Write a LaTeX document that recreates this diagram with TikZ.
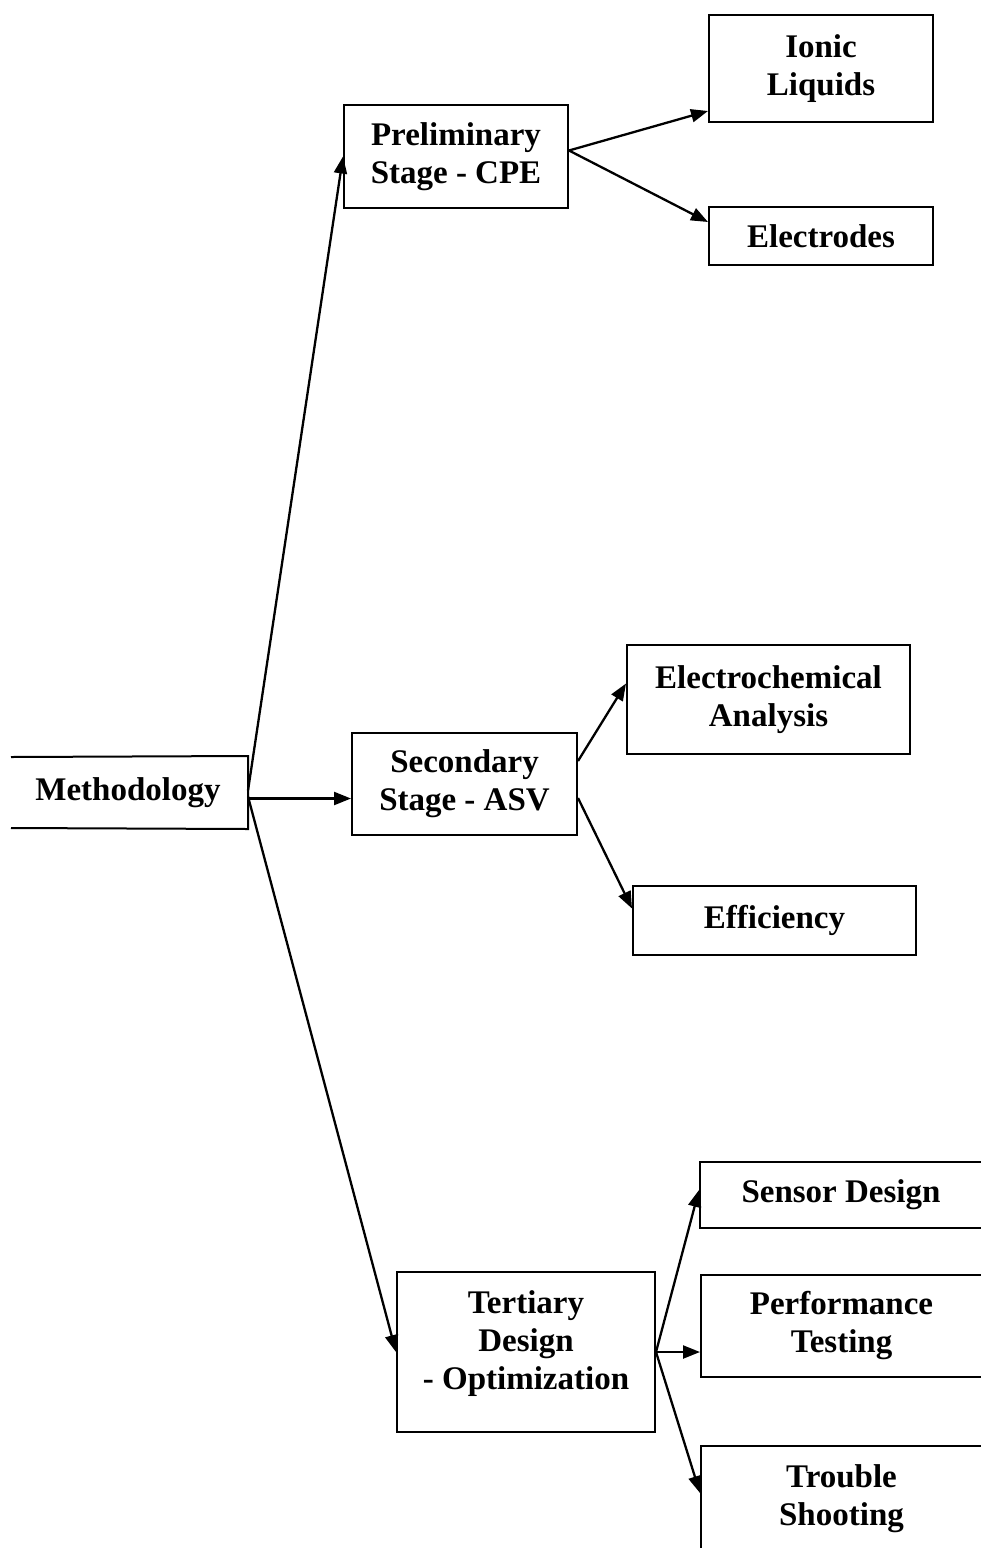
\documentclass[tikz,border=0pt]{standalone}
\usepackage{fontspec}
\setmainfont{Liberation Serif}
\usetikzlibrary{arrows.meta}
\begin{document}
\begin{tikzpicture}[x=1pt,y=-1pt,
  boxfont/.style={font=\fontsize{33}{38}\selectfont\bfseries,align=center},
  box/.style={draw,line width=2pt,inner sep=0pt,boxfont},
  arr/.style={line width=2.3pt,-{Triangle[length=17pt,width=13pt]}}]
\useasboundingbox (0,0) rectangle (981,1548);
\clip (0,0) rectangle (981,1548);
\fill[white] (0,0) rectangle (981,1548);
% nodes
\node[box,draw=none,minimum width=238pt,minimum height=71pt] (meth) at (128,792.5) {Methodology};
\draw[line width=2pt] (11,757) -- (meth.north east) -- (meth.south east) -- (11,828);
\node[box,minimum width=224pt,minimum height=103pt] (prel) at (456,156.5) {Preliminary\\Stage - CPE};
\node[box,minimum width=224pt,minimum height=107pt] (ionic) at (821,68.5) {Ionic\\Liquids};
\node[box,minimum width=224pt,minimum height=58pt] (electr) at (821,236) {Electrodes};
\node[box,minimum width=225pt,minimum height=102pt] (sec) at (464.5,784) {Secondary\\Stage - ASV};
\node[box,minimum width=283pt,minimum height=109pt] (echem) at (768.5,699.5) {Electrochemical\\Analysis};
\node[box,minimum width=283pt,minimum height=69pt] (eff) at (774.5,920.5) {Efficiency};
\node[box,minimum width=258pt,minimum height=160pt,
  label={[boxfont,yshift=8pt]center:Tertiary\\Design\\- Optimization}] (tert) at (526,1352) {};
\node[box,minimum width=282pt,minimum height=66pt] (sensor) at (841,1195) {Sensor Design};
\node[box,minimum width=281pt,minimum height=102pt] (perf) at (841.5,1326) {Performance\\Testing};
\node[box,minimum width=281pt,minimum height=120pt,
  label={[boxfont,yshift=7pt]center:Trouble\\Shooting}] (trouble) at (841.5,1506) {};
% connectors
\draw[arr] ([yshift=2pt]meth.east) -- (prel.west);
\draw[arr] ([yshift=-6pt]meth.east) -- ([yshift=-6pt]meth.east -| sec.west);
\draw[arr] ([yshift=-4pt]meth.east) -- (tert.west);
\draw[arr] ([yshift=6pt]prel.east) -- ([yshift=12pt]ionic.south west);
\draw[arr] ([yshift=6pt]prel.east) -- ([yshift=14pt]electr.west);
\draw[arr] ([yshift=-29pt]sec.north east) -- ([yshift=16pt]echem.west);
\draw[arr] ([yshift=-14pt]sec.east) -- ([yshift=12pt]eff.west);
\draw[arr] (tert.east) -- ([yshift=5pt]sensor.west);
\draw[arr] (tert.east) -- (tert.east -| perf.west);
\draw[arr] (tert.east) -- ([yshift=13pt]trouble.west);
\end{tikzpicture}
\end{document}
